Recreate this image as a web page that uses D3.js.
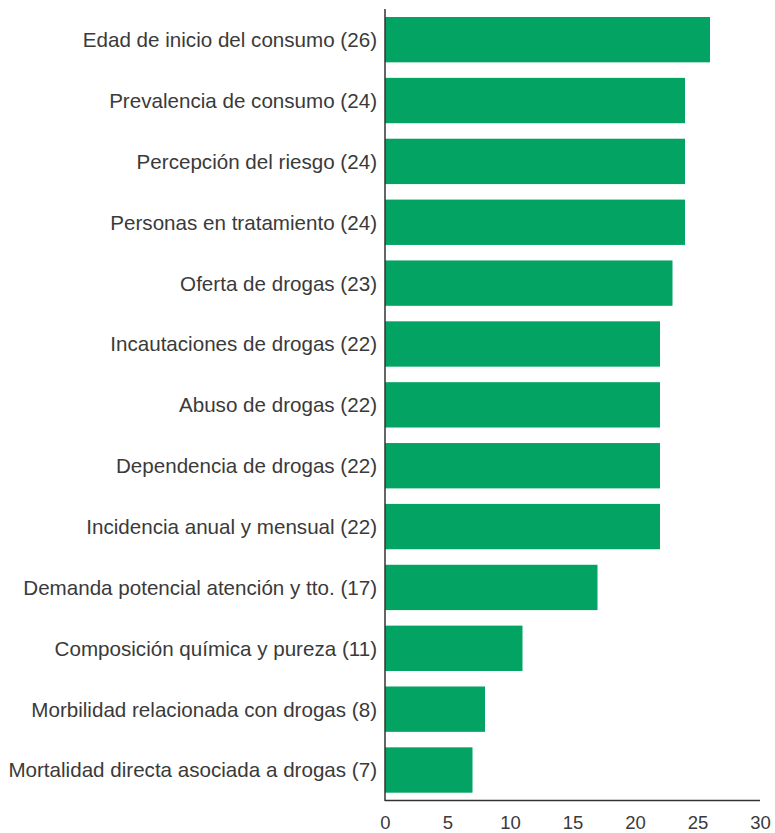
<!DOCTYPE html>
<html><head><meta charset="utf-8">
<script src="https://cdn.jsdelivr.net/npm/d3@7"></script>
<style>body{margin:0;background:#fff}svg{display:block}</style>
</head><body>
<script>
const categories = [
  "Edad de inicio del consumo (26)",
  "Prevalencia de consumo (24)",
  "Percepción del riesgo (24)",
  "Personas en tratamiento (24)",
  "Oferta de drogas (23)",
  "Incautaciones de drogas (22)",
  "Abuso de drogas (22)",
  "Dependencia de drogas (22)",
  "Incidencia anual y mensual (22)",
  "Demanda potencial atención y tto. (17)",
  "Composición química y pureza (11)",
  "Morbilidad relacionada con drogas (8)",
  "Mortalidad directa asociada a drogas (7)"
];
const values = [26,24,24,24,23,22,22,22,22,17,11,8,7];
const xTicks = [0,5,10,15,20,25,30];

const W = 775, H = 833;
const svg = d3.select("body").append("svg").attr("width", W).attr("height", H);
const x = d3.scaleLinear().domain([0,30]).range([385,760]);
const y = d3.scaleBand().domain(categories).range([17,792.7]).paddingInner(0.255).paddingOuter(0);

svg.selectAll("rect.bar").data(categories).join("rect")
  .attr("class","bar")
  .attr("x", x(0))
  .attr("y", d => y(d))
  .attr("width", (d,i) => x(values[i]) - x(0))
  .attr("height", y.bandwidth())
  .attr("fill", "#03a363");

svg.selectAll("text.cat").data(categories).join("text")
  .attr("class","cat")
  .attr("x", 377)
  .attr("y", d => y(d) + y.bandwidth()/2)
  .attr("dy", "0.36em")
  .attr("text-anchor","end")
  .attr("font-family","Liberation Sans, Arial, sans-serif")
  .attr("font-size", 20.6)
  .attr("fill","#3a3a3a")
  .text(d => d);

// axes lines
svg.append("line").attr("x1", x(0)).attr("x2", x(0)).attr("y1", 9).attr("y2", 801)
  .attr("stroke","#333").attr("stroke-width",1.5);
svg.append("line").attr("x1", x(0)).attr("x2", x(30)).attr("y1", 800.5).attr("y2", 800.5)
  .attr("stroke","#333").attr("stroke-width",1.3);

const xAxis = d3.axisBottom(x).tickValues(xTicks).tickSize(0).tickPadding(0);
const gx = svg.append("g").attr("transform","translate(0,829)").call(xAxis);
gx.select(".domain").remove();
gx.selectAll("text")
  .attr("font-family","Liberation Sans, Arial, sans-serif")
  .attr("font-size", 18.5)
  .attr("fill","#3a3a3a")
  .attr("y", 0)
  .attr("dy", 0);
</script>
</body></html>
